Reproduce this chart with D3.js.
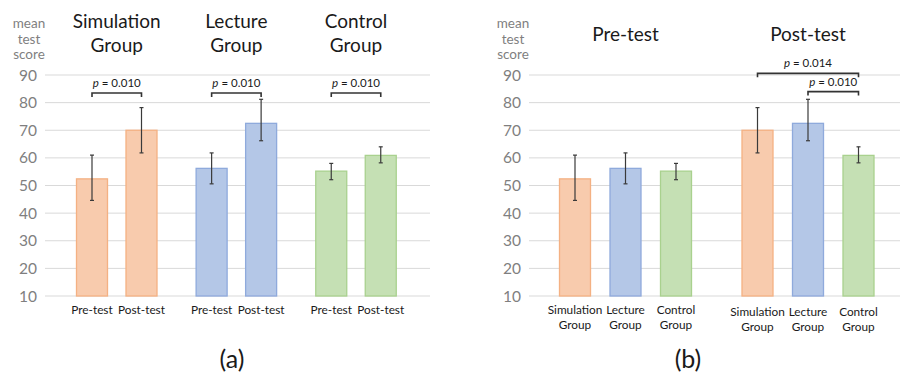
<!DOCTYPE html>
<html>
<head>
<meta charset="utf-8">
<script src="https://cdn.jsdelivr.net/npm/d3@7"></script>
<style>
  html, body { margin: 0; padding: 0; background: #fff; }
  svg { display: block; font-family: Lato, "Open Sans", sans-serif; }
</style>
</head>
<body>
<svg id="chart" width="903" height="377"></svg>
<script>
// ---------- data ----------
const groups = ["Simulation Group", "Lecture Group", "Control Group"];
const tests = ["Pre-test", "Post-test"];
const preMean  = [52.4, 56.2, 55.2];
const postMean = [70.0, 72.5, 60.9];
const preLow   = [44.6, 50.6, 52.1];
const preHigh  = [61.0, 61.8, 58.0];
const postLow  = [61.8, 66.2, 58.2];
const postHigh = [78.2, 81.2, 64.0];
const yTicks = [10, 20, 30, 40, 50, 60, 70, 80, 90];
const yTitle = ["mean", "test", "score"];
const panelLabels = ["(a)", "(b)"];
const leftP = ["0.010", "0.010", "0.010"];           // pre vs post within each group
const rightP = [                                       // post-test comparisons
  { from: "Simulation Group", to: "Control Group", p: "0.014" },
  { from: "Lecture Group", to: "Control Group", p: "0.010" }
];
const fills   = ["#F8CBAD", "#B4C7E7", "#C5E0B4"];
const strokes = ["#F4B183", "#8FAADC", "#A9D18E"];

// ---------- records ----------
const records = [];
groups.forEach((g, i) => {
  records.push({ group: g, gi: i, test: "Pre-test", v: preMean[i], lo: preLow[i], hi: preHigh[i] });
  records.push({ group: g, gi: i, test: "Post-test", v: postMean[i], lo: postLow[i], hi: postHigh[i] });
});

const svg = d3.select("#chart");
const y = d3.scaleLinear().domain([10, 90]).range([296, 75]);
const barW = 31;
const gridColor = "#D9D9D9";
const tickColor = "#7F7F7F";
const textColor = "#1a1a1a";

function drawAxis(g, x0, x1, labelX, titleX) {
  g.append("g").selectAll("line").data(yTicks).join("line")
    .attr("x1", x0).attr("x2", x1)
    .attr("y1", d => y(d)).attr("y2", d => y(d))
    .attr("stroke", gridColor).attr("stroke-width", 1);
  g.append("g").selectAll("text").data(yTicks).join("text")
    .attr("x", labelX).attr("y", d => y(d) + 5.5)
    .attr("text-anchor", "end").attr("font-size", 15.5).attr("fill", tickColor)
    .text(d => d);
  g.append("g").selectAll("text").data(yTitle).join("text")
    .attr("text-anchor", "middle").attr("font-size", 13.5).attr("fill", tickColor)
    .attr("x", titleX).attr("y", (d, i) => 28 + i * 15.5)
    .text(d => d);
}

function drawBars(g, data, xc) {
  g.append("g").selectAll("rect").data(data).join("rect")
    .attr("x", d => xc(d) - barW / 2)
    .attr("y", d => y(d.v))
    .attr("width", barW)
    .attr("height", d => y(10) - y(d.v))
    .attr("fill", d => fills[d.gi])
    .attr("stroke", d => strokes[d.gi])
    .attr("stroke-width", 1.3);
  const eb = g.append("g").attr("stroke", "#3a3a3a").attr("stroke-width", 1.2);
  eb.selectAll("line.v").data(data).join("line").attr("class", "v")
    .attr("x1", d => xc(d)).attr("x2", d => xc(d))
    .attr("y1", d => y(d.hi)).attr("y2", d => y(d.lo));
  eb.selectAll("line.t").data(data).join("line").attr("class", "t")
    .attr("x1", d => xc(d) - 2).attr("x2", d => xc(d) + 2)
    .attr("y1", d => y(d.hi)).attr("y2", d => y(d.hi));
  eb.selectAll("line.b").data(data).join("line").attr("class", "b")
    .attr("x1", d => xc(d) - 2).attr("x2", d => xc(d) + 2)
    .attr("y1", d => y(d.lo)).attr("y2", d => y(d.lo));
}

function bracket(g, xa, xb, level, p, textX) {
  const yy = y(level);
  g.append("path")
    .attr("d", `M${xa},${yy + 4}V${yy}H${xb}V${yy + 4}`)
    .attr("fill", "none").attr("stroke", "#333").attr("stroke-width", 1.6);
  const t = g.append("text")
    .attr("x", textX).attr("y", yy - 6)
    .attr("text-anchor", "middle").attr("font-size", 11.5).attr("fill", textColor);
  t.append("tspan").attr("font-style", "italic").text("p");
  t.append("tspan").text(" = " + p);
}

// ---------- panel (a) ----------
const ga = svg.append("g");
drawAxis(ga, 45, 430, 37, 29);
const xaOuter = d3.scalePoint().domain(groups).range([116.75, 356]);
const xaInner = d3.scalePoint().domain(tests).range([-24.75, 24.75]);
const xcA = d => xaOuter(d.group) + xaInner(d.test);
drawBars(ga, records, xcA);
groups.forEach(gname => {
  const parts = gname.split(" ");
  ga.append("text").attr("x", xaOuter(gname)).attr("text-anchor", "middle")
    .attr("font-size", 19).attr("fill", textColor)
    .selectAll("tspan").data(parts).join("tspan")
    .attr("x", xaOuter(gname)).attr("y", (d, i) => 28 + i * 24).text(d => d);
});
ga.append("g").selectAll("text").data(records).join("text")
  .attr("x", d => xcA(d)).attr("y", 313.5)
  .attr("text-anchor", "middle").attr("font-size", 11.8).attr("fill", textColor)
  .text(d => d.test);
groups.forEach((gname, i) => {
  const xa = xaOuter(gname) + xaInner("Pre-test");
  const xb = xaOuter(gname) + xaInner("Post-test");
  bracket(ga, xa, xb, 83.5, leftP[i], xaOuter(gname));
});
ga.append("text").attr("x", 232).attr("y", 368).attr("text-anchor", "middle")
  .attr("font-size", 25).attr("fill", textColor).text(panelLabels[0]);

// ---------- panel (b) ----------
const gb = svg.append("g");
drawAxis(gb, 529, 900, 521, 513);
const xbOuter = d3.scalePoint().domain(tests).range([625.5, 808]);
const xbInner = d3.scalePoint().domain(groups).range([-50.5, 50.5]);
const xcB = d => xbOuter(d.test) + xbInner(d.group);
drawBars(gb, records, xcB);
tests.forEach(t => {
  gb.append("text").attr("x", xbOuter(t)).attr("y", 41).attr("text-anchor", "middle")
    .attr("font-size", 19).attr("fill", textColor).text(t);
});
const lab = gb.append("g").selectAll("text").data(records).join("text")
  .attr("text-anchor", "middle").attr("font-size", 11.8).attr("fill", textColor);
lab.selectAll("tspan").data(d => d.group.split(" ").map(s => ({ s, d }))).join("tspan")
  .attr("x", o => xcB(o.d))
  .attr("y", (o, i) => 313.5 + (o.d.test === "Post-test" ? 2 : 0) + i * 15.5)
  .text(o => o.s);
const levels = [90.6, 84.0];
rightP.forEach((c, i) => {
  const xa = xbOuter("Post-test") + xbInner(c.from);
  const xb = xbOuter("Post-test") + xbInner(c.to);
  bracket(gb, xa, xb, levels[i], c.p, (xa + xb) / 2);
});
gb.append("text").attr("x", 688).attr("y", 368).attr("text-anchor", "middle")
  .attr("font-size", 25).attr("fill", textColor).text(panelLabels[1]);
</script>
</body>
</html>
